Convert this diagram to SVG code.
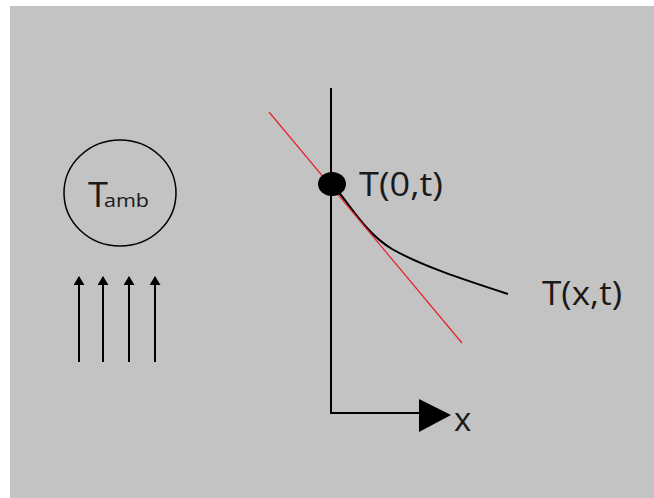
<svg xmlns="http://www.w3.org/2000/svg" width="654" height="498" viewBox="0 0 654 498">
<defs>
<style>
.ln{stroke:#000;stroke-width:2;fill:none}
.lbl{font-family:"Open Sans","Liberation Sans",sans-serif;fill:#1a1a1a}
</style>
<marker id="ah" markerWidth="9" markerHeight="11" refX="8" refY="5.5" orient="auto" markerUnits="userSpaceOnUse" viewBox="0 0 9 11">
<path d="M0,0 L9,5.5 L0,11 Z" fill="#000"/>
</marker>
</defs>
<rect width="654" height="498" fill="#fff"/>
<rect x="10" y="6" width="644" height="492" fill="#c3c3c3"/>
<g id="ambient">
<ellipse cx="120" cy="193" rx="56" ry="53" fill="none" stroke="#000" stroke-width="1.5"/>
<text class="lbl" x="88" y="207" font-size="35" textLength="20" lengthAdjust="spacingAndGlyphs">T</text>
<text class="lbl" x="104" y="207" font-size="18" textLength="45" lengthAdjust="spacingAndGlyphs">amb</text>
</g>
<g id="flow">
<line class="ln" x1="79" y1="362" x2="79" y2="277" marker-end="url(#ah)"/>
<line class="ln" x1="103" y1="362" x2="103" y2="277" marker-end="url(#ah)"/>
<line class="ln" x1="129" y1="362" x2="129" y2="277" marker-end="url(#ah)"/>
<line class="ln" x1="155" y1="362" x2="155" y2="277" marker-end="url(#ah)"/>
</g>
<g id="axes">
<polyline class="ln" points="331,88 331,413 420,413"/>
<polygon points="419,399 451,415 419,432" fill="#000"/>
<text class="lbl" x="454" y="431" font-size="33">x</text>
</g>
<g id="profile">
<path class="ln" d="M332,184 C350,204 364,232 392,249 C422,266 462,279 508,294"/>
<line x1="269" y1="112" x2="462" y2="343" stroke="#e8202a" stroke-width="1.2"/>
<ellipse cx="332" cy="184" rx="14" ry="12" fill="#000"/>
<text class="lbl" x="359" y="196" font-size="32" textLength="84" lengthAdjust="spacingAndGlyphs">T(0,t)</text>
<text class="lbl" x="542" y="305" font-size="32" textLength="80" lengthAdjust="spacingAndGlyphs">T(x,t)</text>
</g>
</svg>
